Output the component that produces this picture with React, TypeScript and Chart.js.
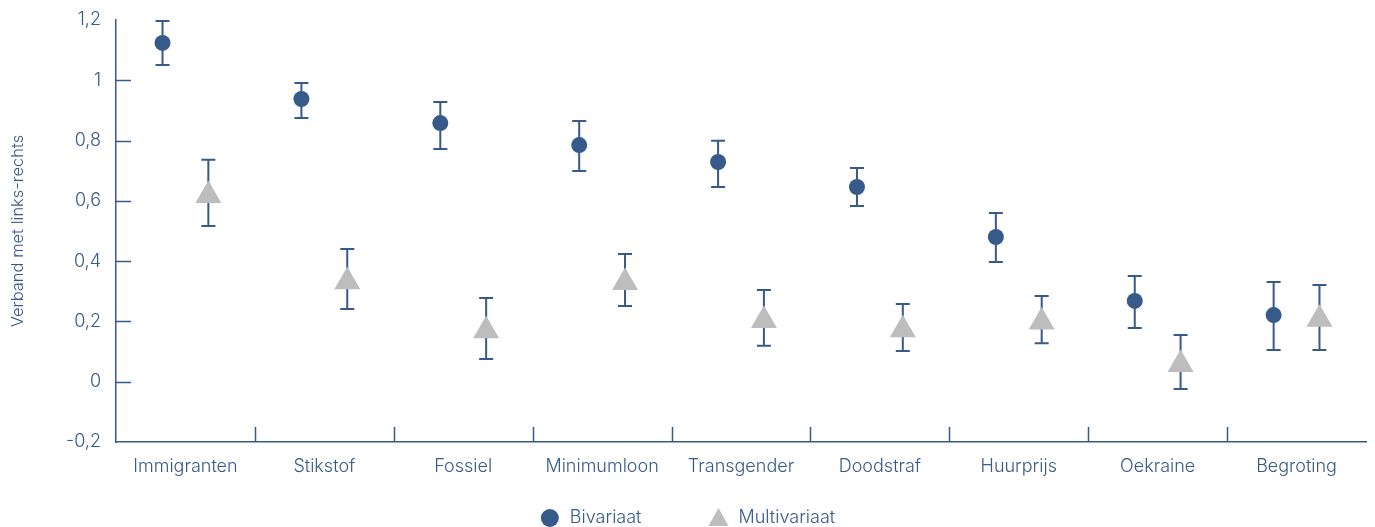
import React, { useEffect, useRef } from 'react';
import { Chart, registerables } from 'chart.js';

Chart.register(...registerables);

const categories = ['Immigranten', 'Stikstof', 'Fossiel', 'Minimumloon', 'Transgender', 'Doodstraf', 'Huurprijs', 'Oekraine', 'Begroting'];

const bivariaat = [1.124, 0.938, 0.858, 0.785, 0.729, 0.646, 0.48, 0.268, 0.221];
const bivariaatLow = [1.051, 0.875, 0.772, 0.699, 0.646, 0.583, 0.397, 0.178, 0.105];
const bivariaatHigh = [1.197, 0.991, 0.928, 0.865, 0.799, 0.709, 0.56, 0.351, 0.331];

const multivariaat = [0.618, 0.332, 0.169, 0.329, 0.203, 0.172, 0.198, 0.057, 0.207];
const multivariaatLow = [0.517, 0.241, 0.075, 0.251, 0.119, 0.102, 0.128, -0.024, 0.105];
const multivariaatHigh = [0.736, 0.44, 0.278, 0.424, 0.304, 0.258, 0.284, 0.155, 0.321];

const yTickValues = [-0.2, 0, 0.2, 0.4, 0.6, 0.8, 1, 1.2];
const yTickLabels = ['-0,2', '0', '0,2', '0,4', '0,6', '0,8', '1', '1,2'];

const BLUE = '#365a8a';
const GREY = '#bdbdbd';
const FONT = "Inter, 'Open Sans', sans-serif";
const FONT_WEIGHT = '300';

const errorBarPlugin = {
  id: 'errorBars',
  beforeDatasetsDraw(chart: any) {
    const ctx = chart.ctx;
    const xs = chart.scales.xv;
    const ys = chart.scales.y;
    ctx.save();
    ctx.strokeStyle = BLUE;
    ctx.lineWidth = 2;
    chart.data.datasets.forEach((ds: any) => {
      ds.data.forEach((p: any) => {
        const x = xs.getPixelForValue(p.x);
        const yl = ys.getPixelForValue(p.low);
        const yh = ys.getPixelForValue(p.high);
        const cap = 7;
        ctx.beginPath();
        ctx.moveTo(x, yl);
        ctx.lineTo(x, yh);
        ctx.moveTo(x - cap, yl);
        ctx.lineTo(x + cap, yl);
        ctx.moveTo(x - cap, yh);
        ctx.lineTo(x + cap, yh);
        ctx.stroke();
      });
    });
    ctx.restore();
  },
};

const innerTicksPlugin = {
  id: 'innerTicks',
  afterDraw(chart: any) {
    const ctx = chart.ctx;
    const xs = chart.scales.xv;
    const ys = chart.scales.y;
    const area = chart.chartArea;
    const len = 15;
    ctx.save();
    ctx.strokeStyle = BLUE;
    ctx.lineWidth = 1.5;
    ctx.beginPath();
    yTickValues.forEach((v) => {
      if (v <= ys.min || v >= ys.max) return;
      const y = Math.round(ys.getPixelForValue(v)) + 0.5;
      ctx.moveTo(area.left, y);
      ctx.lineTo(area.left + len, y);
    });
    for (let i = 1; i < categories.length; i++) {
      const x = Math.round(xs.getPixelForValue(i)) + 0.5;
      ctx.moveTo(x, area.bottom);
      ctx.lineTo(x, area.bottom - len);
    }
    ctx.stroke();
    ctx.restore();
  },
};

// Legend drawn from the datasets' own labels and styles
const bottomLegendPlugin = {
  id: 'bottomLegend',
  afterDraw(chart: any) {
    const ctx = chart.ctx;
    const datasets = chart.data.datasets;
    ctx.save();
    ctx.font = `${FONT_WEIGHT} 18px ${FONT}`;
    ctx.textBaseline = 'middle';
    ctx.textAlign = 'left';
    const markerW = 20;
    const markerGap = 10;
    const itemGap = 67;
    const widths = datasets.map((ds: any) => markerW + markerGap + ctx.measureText(ds.label).width);
    const total = widths.reduce((a: number, b: number) => a + b, 0) + itemGap * (datasets.length - 1);
    let x = chart.width / 2 - total / 2;
    const y = chart.height - 9;
    datasets.forEach((ds: any, i: number) => {
      const cx = x + markerW / 2;
      ctx.fillStyle = ds.backgroundColor;
      ctx.beginPath();
      if (ds.pointStyle === 'triangle') {
        ctx.moveTo(cx, y - 10);
        ctx.lineTo(cx + 10, y + 8);
        ctx.lineTo(cx - 10, y + 8);
        ctx.closePath();
      } else {
        ctx.arc(cx, y, 9, 0, Math.PI * 2);
      }
      ctx.fill();
      ctx.fillStyle = BLUE;
      ctx.fillText(ds.label, x + markerW + markerGap, y);
      x += widths[i] + itemGap;
    });
    ctx.restore();
  },
};

export default function App() {
  const canvasRef = useRef<HTMLCanvasElement | null>(null);

  useEffect(() => {
    if (!canvasRef.current) return;
    const half = 0.165;
    const tickFont = { family: FONT, size: 18, weight: FONT_WEIGHT as any };
    const chart = new Chart(canvasRef.current, {
      type: 'scatter',
      data: {
        labels: categories,
        datasets: [
          {
            label: 'Bivariaat',
            data: categories.map((c, i) => ({ x: i + 0.5 - half, y: bivariaat[i], low: bivariaatLow[i], high: bivariaatHigh[i] })),
            xAxisID: 'xv',
            yAxisID: 'y',
            pointStyle: 'circle',
            pointRadius: 8,
            pointHoverRadius: 8,
            backgroundColor: BLUE,
            borderColor: BLUE,
            borderWidth: 0,
          },
          {
            label: 'Multivariaat',
            data: categories.map((c, i) => ({ x: i + 0.5 + half, y: multivariaat[i], low: multivariaatLow[i], high: multivariaatHigh[i] })),
            xAxisID: 'xv',
            yAxisID: 'y',
            pointStyle: 'triangle',
            pointRadius: 15,
            pointHoverRadius: 15,
            backgroundColor: GREY,
            borderColor: GREY,
            borderWidth: 0,
          },
        ],
      } as any,
      options: {
        animation: false,
        responsive: true,
        maintainAspectRatio: false,
        layout: { autoPadding: false, padding: { left: 0, right: 9, top: 20, bottom: 0 } },
        plugins: {
          tooltip: { enabled: false },
          legend: { display: false },
        },
        scales: {
          x: {
            type: 'category',
            labels: categories,
            offset: true,
            position: 'bottom',
            grid: { display: false, drawTicks: false },
            border: { display: true, color: BLUE, width: 1.5 },
            ticks: { color: BLUE, padding: 14, font: tickFont, maxRotation: 0, autoSkip: false },
            afterFit: (s: any) => { s.height = 85; s.paddingLeft = 0; s.paddingRight = 0; },
          },
          xv: {
            type: 'linear',
            min: 0,
            max: categories.length,
            display: false,
          },
          y: {
            type: 'linear',
            min: -0.2,
            max: 1.2,
            grid: { display: false, drawTicks: false },
            border: { display: true, color: BLUE, width: 1.5 },
            afterBuildTicks: (s: any) => { s.ticks = yTickValues.map((v) => ({ value: v })); },
            ticks: {
              color: BLUE,
              padding: 15,
              font: tickFont,
              callback: (v: any) => {
                const idx = yTickValues.findIndex((t) => Math.abs(t - Number(v)) < 1e-6);
                return idx >= 0 ? yTickLabels[idx] : '';
              },
            },
            title: {
              display: true,
              text: 'Verband met links-rechts',
              color: BLUE,
              padding: { top: 8, bottom: 0 },
              font: { family: FONT, size: 16.5, weight: FONT_WEIGHT as any },
            },
            afterFit: (s: any) => { s.width = 116; s.paddingTop = 0; s.paddingBottom = 0; },
          },
        },
      } as any,
      plugins: [errorBarPlugin, innerTicksPlugin, bottomLegendPlugin],
    });
    return () => chart.destroy();
  }, []);

  return (
    <div style={{ position: 'fixed', left: 0, top: 0, width: '100vw', height: '100vh', background: '#fff' }}>
      <canvas ref={canvasRef} />
    </div>
  );
}
